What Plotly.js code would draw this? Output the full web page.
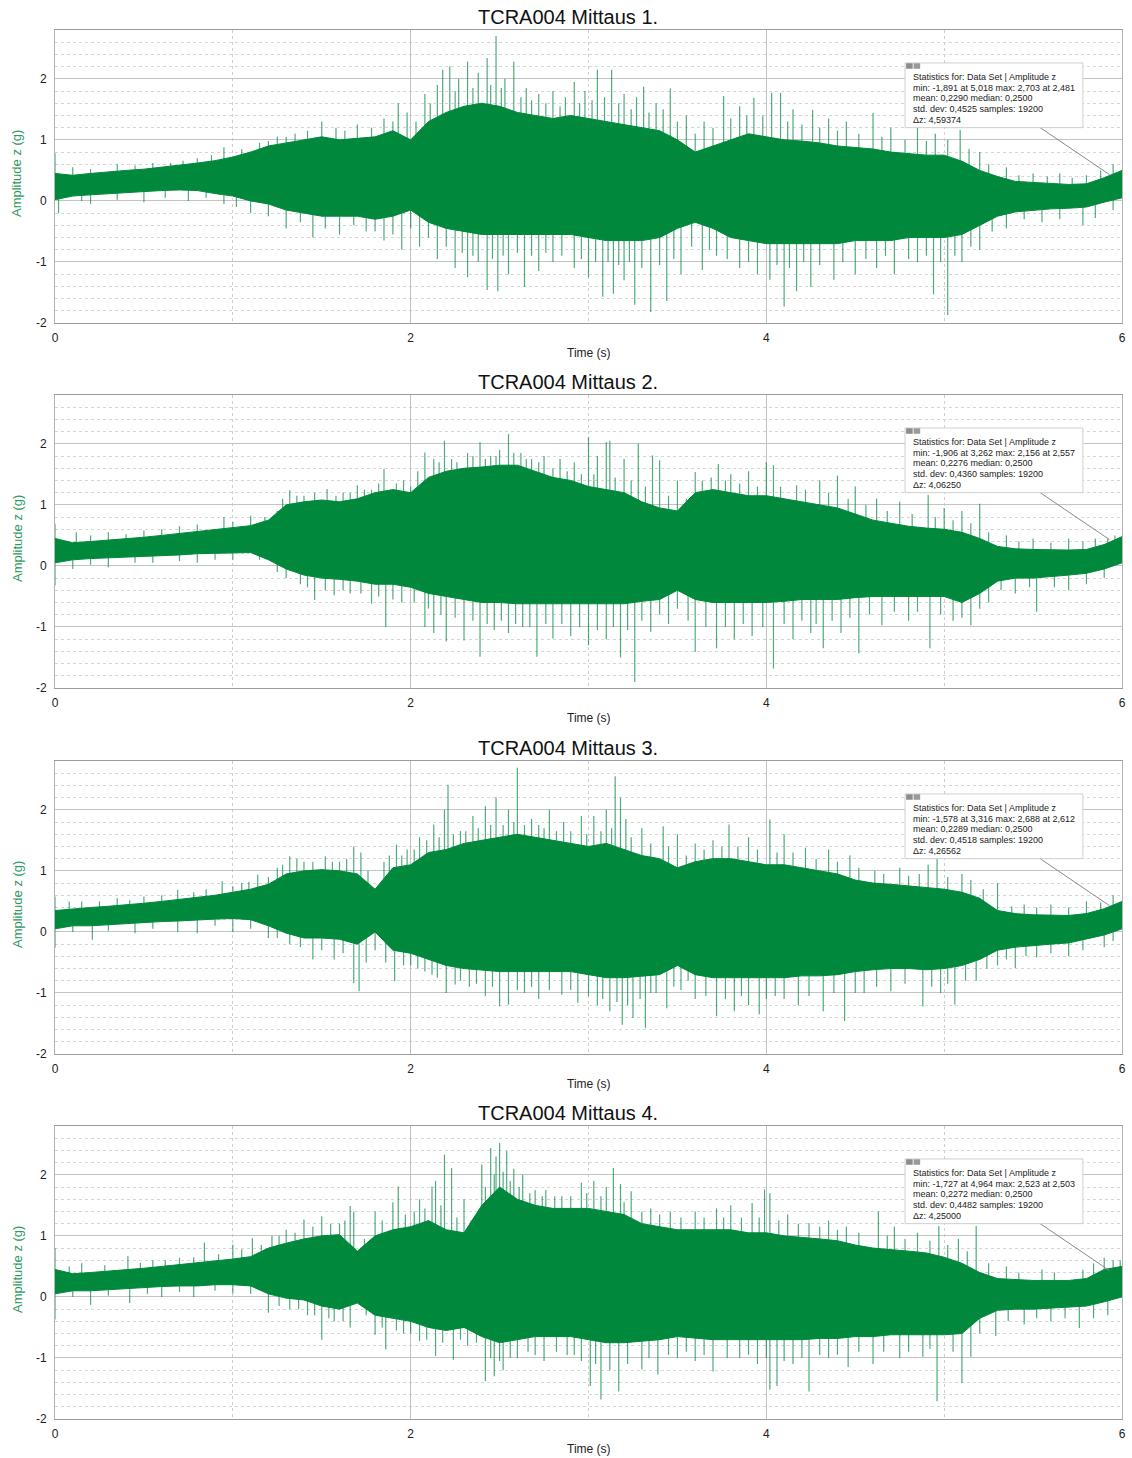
<!DOCTYPE html>
<html><head><meta charset="utf-8">
<script src="https://cdn.plot.ly/plotly-3.0.1.min.js"></script>
<style>html,body{margin:0;padding:0;background:#fff}#chart{width:1132px;height:1458px}</style>
</head><body><div id="chart"></div><script>
const panelTitles = ["TCRA004 Mittaus 1.", "TCRA004 Mittaus 2.", "TCRA004 Mittaus 3.", "TCRA004 Mittaus 4."];
const xTitle = "Time (s)";
const yTitle = "Amplitude z (g)";
const xTickVals = [0, 2, 4, 6];
const xTickText = ["0", "2", "4", "6"];
const yTickVals = [-2, -1, 0, 1, 2];
const yTickText = ["-2", "-1", "0", "1", "2"];
const medianZ = [0.25, 0.25, 0.25, 0.25];

const timeGrid = [0,0.1,0.2,0.3,0.4,0.5,0.6,0.7,0.8,0.9,1,1.1,1.2,1.3,1.4,1.5,1.6,1.7,1.8,1.9,2,2.1,2.2,2.3,2.4,2.5,2.6,2.7,2.8,2.9,3,3.1,3.2,3.3,3.4,3.5,3.6,3.7,3.8,3.9,4,4.1,4.2,4.3,4.4,4.5,4.6,4.7,4.8,4.9,5,5.1,5.2,5.3,5.4,5.5,5.6,5.7,5.8,5.9,6];

// Dense body envelope (upper / lower edge) per measurement
const upper1 = [0.45,0.42,0.45,0.48,0.5,0.52,0.55,0.58,0.62,0.66,0.72,0.8,0.9,0.95,1.0,1.05,1.0,1.02,1.05,1.15,1.0,1.3,1.45,1.55,1.6,1.55,1.45,1.4,1.35,1.4,1.35,1.3,1.25,1.2,1.15,1.0,0.8,0.9,1.0,1.1,1.05,1.0,0.98,0.95,0.9,0.88,0.85,0.8,0.78,0.75,0.75,0.65,0.5,0.4,0.32,0.3,0.28,0.27,0.28,0.38,0.5];
const lower1 = [0.02,0.08,0.1,0.12,0.13,0.15,0.17,0.18,0.17,0.12,0.08,0.0,-0.05,-0.15,-0.2,-0.25,-0.25,-0.25,-0.3,-0.25,-0.15,-0.35,-0.45,-0.5,-0.55,-0.55,-0.55,-0.55,-0.55,-0.55,-0.6,-0.65,-0.65,-0.65,-0.6,-0.45,-0.35,-0.45,-0.6,-0.65,-0.7,-0.7,-0.7,-0.7,-0.7,-0.65,-0.65,-0.65,-0.6,-0.6,-0.6,-0.55,-0.4,-0.25,-0.18,-0.15,-0.13,-0.12,-0.1,-0.02,0.05];
const upper2 = [0.45,0.38,0.4,0.42,0.44,0.47,0.5,0.53,0.56,0.6,0.63,0.66,0.75,1.0,1.05,1.08,1.05,1.1,1.2,1.25,1.2,1.45,1.55,1.6,1.62,1.65,1.65,1.55,1.45,1.4,1.3,1.25,1.2,1.05,0.95,0.9,1.2,1.25,1.2,1.15,1.15,1.1,1.05,1.0,0.95,0.85,0.75,0.7,0.65,0.62,0.6,0.55,0.45,0.32,0.28,0.27,0.26,0.26,0.27,0.35,0.48];
const lower2 = [0.05,0.1,0.12,0.13,0.14,0.15,0.17,0.18,0.2,0.21,0.22,0.22,0.1,-0.05,-0.15,-0.2,-0.22,-0.25,-0.3,-0.3,-0.35,-0.45,-0.5,-0.55,-0.6,-0.6,-0.62,-0.62,-0.62,-0.62,-0.62,-0.62,-0.62,-0.58,-0.55,-0.4,-0.55,-0.6,-0.6,-0.6,-0.6,-0.58,-0.55,-0.55,-0.55,-0.52,-0.5,-0.5,-0.5,-0.5,-0.5,-0.6,-0.45,-0.25,-0.2,-0.2,-0.18,-0.15,-0.12,-0.05,0.05];
const upper3 = [0.35,0.38,0.4,0.42,0.44,0.47,0.5,0.53,0.56,0.6,0.65,0.7,0.78,0.95,1.0,1.02,1.0,0.95,0.7,1.05,1.1,1.3,1.35,1.45,1.5,1.55,1.6,1.55,1.5,1.45,1.4,1.45,1.35,1.25,1.2,1.05,1.15,1.2,1.2,1.15,1.1,1.1,1.05,1.0,0.95,0.85,0.8,0.78,0.75,0.72,0.7,0.65,0.55,0.35,0.3,0.28,0.28,0.27,0.3,0.38,0.5];
const lower3 = [0.05,0.1,0.1,0.12,0.13,0.15,0.17,0.18,0.2,0.21,0.22,0.2,0.1,-0.02,-0.1,-0.1,-0.12,-0.2,0.0,-0.3,-0.35,-0.45,-0.55,-0.6,-0.62,-0.65,-0.65,-0.65,-0.65,-0.65,-0.7,-0.75,-0.75,-0.72,-0.7,-0.55,-0.7,-0.75,-0.75,-0.75,-0.75,-0.75,-0.72,-0.72,-0.7,-0.65,-0.62,-0.6,-0.6,-0.62,-0.6,-0.55,-0.45,-0.3,-0.25,-0.22,-0.2,-0.18,-0.12,-0.05,0.05];
const upper4 = [0.45,0.38,0.4,0.42,0.44,0.47,0.5,0.53,0.56,0.58,0.62,0.66,0.8,0.88,0.95,1.0,1.02,0.75,1.0,1.1,1.15,1.25,1.1,1.05,1.5,1.8,1.6,1.5,1.45,1.45,1.45,1.4,1.35,1.2,1.15,1.1,1.1,1.1,1.1,1.05,1.05,1.0,0.98,0.95,0.92,0.85,0.8,0.78,0.75,0.72,0.65,0.55,0.4,0.3,0.28,0.27,0.27,0.27,0.3,0.45,0.5];
const lower4 = [0.05,0.1,0.1,0.12,0.13,0.15,0.17,0.18,0.18,0.2,0.2,0.18,0.05,-0.02,-0.05,-0.15,-0.2,-0.1,-0.3,-0.35,-0.4,-0.5,-0.55,-0.5,-0.65,-0.75,-0.7,-0.65,-0.65,-0.65,-0.7,-0.75,-0.75,-0.72,-0.7,-0.65,-0.68,-0.7,-0.7,-0.7,-0.7,-0.7,-0.7,-0.68,-0.68,-0.65,-0.65,-0.62,-0.62,-0.62,-0.62,-0.6,-0.35,-0.22,-0.2,-0.2,-0.18,-0.17,-0.15,-0.08,0.0];

// Tallest individual peaks (time, value)
const peakUpT1 = [0.0,0.1,0.35,0.55,0.8,0.95,1.05,1.25,1.35,1.5,1.58,1.7,1.85,1.93,1.98,2.08,2.15,2.18,2.22,2.27,2.32,2.38,2.43,2.48,2.53,2.58,2.65,2.72,2.8,2.87,2.92,2.98,3.05,3.13,3.2,3.27,3.31,3.38,3.46,3.55,3.65,3.76,3.85,3.93,4.03,4.08,4.15,4.26,4.35,4.45,4.6,4.7,4.85,4.95,5.09,5.2,5.35,5.5,5.65,5.8,5.95];
const peakUpV1 = [0.78,0.55,0.6,0.62,0.7,0.88,0.85,1.05,1.1,1.3,1.2,1.25,1.35,1.6,1.45,1.75,1.9,2.15,2.2,2.0,2.28,2.1,2.34,2.7,2.0,2.28,1.85,1.75,1.8,1.7,1.95,1.8,2.15,2.15,1.75,1.7,1.87,1.6,1.84,1.4,1.3,1.72,1.55,1.69,1.77,1.77,1.5,1.49,1.35,1.3,1.44,1.2,1.21,1.1,1.16,0.8,0.55,0.45,0.45,0.42,0.6];
const peakDnT1 = [0.02,0.2,0.5,0.75,0.95,1.1,1.3,1.45,1.6,1.75,1.85,1.95,2.05,2.15,2.25,2.32,2.38,2.43,2.49,2.55,2.64,2.72,2.8,2.92,3.0,3.08,3.14,3.2,3.26,3.35,3.44,3.52,3.64,3.72,3.85,3.95,4.02,4.1,4.17,4.25,4.38,4.5,4.62,4.72,4.85,4.94,5.02,5.1,5.2,5.35,5.55,5.78,5.95];
const peakDnV1 = [-0.2,-0.05,-0.02,0.0,-0.05,-0.2,-0.45,-0.6,-0.55,-0.5,-0.65,-0.8,-0.75,-0.95,-1.1,-1.25,-1.0,-1.46,-1.48,-1.2,-1.41,-1.15,-1.0,-1.1,-1.25,-1.57,-1.52,-1.3,-1.7,-1.82,-1.64,-1.2,-1.13,-0.9,-1.1,-1.2,-1.29,-1.73,-1.48,-1.41,-1.29,-1.2,-1.1,-1.2,-1.0,-1.53,-1.87,-1.0,-0.8,-0.45,-0.35,-0.4,-0.15];
// Smaller peaks along the edge of the dense body
const ridgeUpT1 = [0.2,0.45,0.65,0.72,0.88,1.15,1.2,1.3,1.42,1.63,1.78,1.9,2.03,2.11,2.25,2.35,2.45,2.51,2.62,2.68,2.76,2.84,2.95,3.02,3.09,3.17,3.24,3.34,3.42,3.5,3.6,3.7,3.8,3.89,3.98,4.12,4.2,4.3,4.4,4.52,4.65,4.78,4.9,5.02,5.14,5.25,5.42,5.58,5.72,5.88];
const ridgeUpV1 = [0.52,0.58,0.62,0.66,0.75,0.95,0.98,1.05,1.15,1.15,1.2,1.3,1.3,1.6,1.8,1.85,1.9,1.85,1.7,1.65,1.6,1.55,1.6,1.65,1.7,1.6,1.5,1.45,1.5,1.3,1.1,1.2,1.35,1.4,1.4,1.3,1.25,1.2,1.15,1.1,1.05,1.0,0.98,1.0,0.85,0.6,0.42,0.4,0.38,0.5];
const ridgeDnT1 = [0.15,0.35,0.62,0.85,1.02,1.2,1.38,1.52,1.68,1.8,1.9,2.0,2.1,2.2,2.29,2.35,2.46,2.52,2.6,2.68,2.76,2.85,2.96,3.04,3.11,3.17,3.23,3.3,3.4,3.48,3.58,3.68,3.78,3.9,4.06,4.13,4.21,4.3,4.43,4.56,4.67,4.8,4.9,4.98,5.06,5.15,5.27,5.45,5.65,5.85];
const ridgeDnV1 = [0.0,0.02,0.05,0.05,-0.1,-0.25,-0.35,-0.45,-0.4,-0.5,-0.55,-0.45,-0.6,-0.75,-0.85,-0.9,-0.95,-0.9,-0.85,-0.9,-0.85,-0.9,-0.95,-1.0,-1.0,-1.05,-1.0,-1.1,-1.05,-0.95,-0.75,-0.8,-0.95,-1.0,-1.05,-1.1,-1.0,-1.05,-1.0,-0.95,-0.9,-0.95,-0.9,-1.0,-0.9,-0.75,-0.5,-0.3,-0.3,-0.28];

const peakUpT2 = [0.0,0.12,0.3,0.5,0.7,0.95,1.1,1.25,1.32,1.4,1.53,1.62,1.7,1.78,1.85,1.92,2.0,2.08,2.13,2.19,2.26,2.32,2.39,2.45,2.5,2.55,2.62,2.68,2.75,2.84,2.92,3.0,3.05,3.1,3.12,3.2,3.28,3.36,3.4,3.5,3.6,3.73,3.8,3.9,4.0,4.04,4.17,4.3,4.4,4.5,4.62,4.75,4.91,5.0,5.1,5.2,5.35,5.5,5.7,5.85,5.96];
const peakUpV2 = [0.69,0.55,0.55,0.58,0.65,0.8,0.82,0.9,1.24,1.15,1.26,1.2,1.32,1.25,1.59,1.35,1.3,1.86,1.75,2.05,1.7,1.85,2.03,1.8,1.9,2.16,1.85,1.75,1.8,1.75,1.7,2.11,1.8,2.03,2.05,1.75,2.0,1.81,1.73,1.4,1.54,1.67,1.5,1.55,1.7,1.65,1.32,1.4,1.48,1.3,1.1,1.05,1.16,0.95,0.9,1.02,0.5,0.45,0.45,0.45,0.5];
const peakDnT2 = [0.0,0.1,0.3,0.55,0.8,1.0,1.25,1.38,1.46,1.57,1.66,1.78,1.86,1.95,2.08,2.13,2.2,2.3,2.39,2.47,2.55,2.63,2.71,2.8,2.9,3.0,3.1,3.18,3.26,3.35,3.45,3.6,3.72,3.82,3.92,4.04,4.15,4.25,4.32,4.42,4.52,4.65,4.8,4.92,5.05,5.15,5.25,5.4,5.52,5.7,5.9];
const peakDnV2 = [-0.32,-0.05,-0.02,0.05,0.05,0.1,-0.1,-0.3,-0.56,-0.48,-0.45,-0.62,-1.0,-0.6,-1.0,-1.1,-1.24,-1.22,-1.49,-1.05,-1.1,-1.0,-1.49,-1.19,-1.15,-1.3,-1.2,-1.5,-1.9,-1.08,-0.95,-1.41,-1.35,-1.2,-1.15,-1.68,-1.2,-1.1,-1.35,-1.1,-1.43,-0.97,-0.9,-1.35,-0.9,-0.97,-0.6,-0.45,-0.75,-0.4,-0.2];
const ridgeUpT2 = [0.2,0.4,0.6,0.8,1.0,1.18,1.28,1.36,1.46,1.58,1.66,1.74,1.82,1.96,2.04,2.16,2.23,2.35,2.42,2.48,2.58,2.65,2.72,2.8,2.88,2.96,3.03,3.15,3.24,3.32,3.45,3.55,3.64,3.69,3.77,3.85,3.95,4.08,4.22,4.35,4.46,4.56,4.68,4.82,4.95,5.05,5.15,5.25,5.42,5.6,5.78,5.92];
const ridgeUpV2 = [0.5,0.52,0.6,0.68,0.72,0.8,1.1,1.15,1.2,1.15,1.2,1.25,1.35,1.4,1.55,1.7,1.75,1.8,1.75,1.8,1.85,1.75,1.7,1.6,1.55,1.5,1.5,1.45,1.4,1.3,1.15,1.1,1.4,1.45,1.4,1.35,1.3,1.3,1.25,1.2,1.1,1.0,0.9,0.85,0.8,0.75,0.7,0.55,0.4,0.38,0.4,0.45];
const ridgeDnT2 = [0.2,0.45,0.7,0.9,1.15,1.3,1.42,1.52,1.62,1.72,1.82,1.9,2.02,2.1,2.17,2.25,2.35,2.43,2.51,2.59,2.67,2.76,2.85,2.95,3.05,3.14,3.22,3.3,3.4,3.5,3.56,3.66,3.77,3.87,3.98,4.1,4.2,4.28,4.37,4.47,4.58,4.72,4.85,4.98,5.1,5.2,5.32,5.48,5.62,5.8];
const ridgeDnV2 = [0.02,0.05,0.08,0.1,0.1,-0.2,-0.35,-0.4,-0.4,-0.45,-0.5,-0.55,-0.6,-0.7,-0.8,-0.85,-0.9,-0.95,-0.9,-0.95,-1.0,-0.95,-0.95,-1.0,-1.05,-1.0,-1.05,-0.9,-0.8,-0.7,-0.9,-1.0,-1.0,-0.95,-1.0,-0.95,-0.9,-0.95,-0.9,-0.85,-0.8,-0.75,-0.75,-0.8,-0.85,-0.7,-0.4,-0.35,-0.35,-0.3];

const peakUpT3 = [0.0,0.15,0.35,0.5,0.69,0.85,0.94,1.05,1.14,1.25,1.32,1.36,1.45,1.52,1.6,1.68,1.72,1.85,1.92,1.98,2.05,2.13,2.19,2.21,2.28,2.35,2.42,2.48,2.55,2.6,2.68,2.72,2.78,2.86,2.96,3.03,3.1,3.15,3.18,3.21,3.3,3.42,3.5,3.6,3.7,3.79,3.9,4.02,4.1,4.22,4.35,4.47,4.61,4.75,4.91,4.96,5.1,5.3,5.45,5.6,5.8,5.95];
const peakUpV3 = [0.58,0.5,0.55,0.58,0.69,0.7,0.83,0.8,0.94,1.05,1.24,1.2,1.15,1.24,1.15,1.4,1.3,1.15,1.43,1.35,1.55,1.76,2.0,2.41,1.65,1.9,2.06,2.2,2.0,2.69,1.85,1.75,2.0,1.8,1.9,1.9,2.0,2.55,2.2,1.85,1.7,1.73,1.6,1.45,1.5,1.76,1.55,1.84,1.6,1.38,1.35,1.25,1.0,1.05,1.1,1.21,0.95,0.8,0.45,0.45,0.5,0.6];
const peakDnT3 = [0.0,0.21,0.45,0.69,0.8,1.0,1.2,1.38,1.45,1.57,1.68,1.71,1.8,1.91,2.0,2.08,2.15,2.2,2.25,2.33,2.42,2.5,2.55,2.64,2.72,2.85,2.94,3.05,3.12,3.19,3.25,3.32,3.38,3.44,3.52,3.6,3.72,3.82,3.9,3.96,4.05,4.18,4.32,4.44,4.55,4.7,4.88,4.98,5.06,5.18,5.3,5.4,5.52,5.7,5.9];
const peakDnV3 = [-0.26,-0.13,-0.02,0.0,-0.02,0.0,-0.1,-0.25,-0.45,-0.45,-0.84,-0.97,-0.3,-0.81,-0.55,-0.65,-0.75,-1.0,-0.86,-0.9,-1.05,-1.22,-1.19,-1.0,-1.1,-1.03,-1.16,-1.2,-1.3,-1.52,-1.41,-1.57,-1.0,-1.25,-0.95,-1.1,-1.38,-1.3,-1.2,-1.35,-1.05,-1.2,-1.3,-1.46,-1.0,-0.97,-1.22,-1.0,-1.19,-0.8,-0.55,-0.59,-0.42,-0.4,-0.25];
const ridgeUpT3 = [0.08,0.25,0.42,0.6,0.78,1.0,1.09,1.2,1.28,1.4,1.56,1.64,1.76,1.88,1.95,2.02,2.09,2.16,2.24,2.31,2.38,2.45,2.52,2.58,2.64,2.75,2.82,2.9,2.99,3.07,3.13,3.24,3.35,3.45,3.55,3.65,3.75,3.84,3.95,4.06,4.15,4.28,4.4,4.52,4.66,4.8,4.86,5.02,5.15,5.22,5.38,5.52,5.7,5.88];
const ridgeUpV3 = [0.5,0.5,0.52,0.6,0.65,0.75,0.82,0.9,1.1,1.15,1.15,1.2,1.0,1.25,1.25,1.35,1.5,1.55,1.6,1.65,1.7,1.75,1.75,1.8,1.75,1.7,1.65,1.65,1.6,1.65,1.7,1.55,1.45,1.4,1.25,1.35,1.4,1.4,1.35,1.3,1.3,1.2,1.15,1.05,0.95,0.92,0.95,0.9,0.85,0.7,0.42,0.4,0.4,0.48];
const ridgeDnT3 = [0.1,0.3,0.55,0.9,1.1,1.25,1.32,1.5,1.62,1.75,1.86,1.96,2.04,2.12,2.28,2.37,2.46,2.6,2.68,2.78,2.9,3.0,3.08,3.16,3.22,3.29,3.35,3.48,3.56,3.66,3.77,3.86,4.0,4.1,4.24,4.38,4.5,4.62,4.78,4.93,5.02,5.12,5.24,5.35,5.46,5.6,5.78,5.95];
const ridgeDnV3 = [0.0,0.02,0.05,0.1,0.05,-0.1,-0.2,-0.3,-0.35,-0.5,-0.5,-0.55,-0.6,-0.7,-0.8,-0.85,-0.9,-0.95,-0.9,-0.95,-0.95,-1.05,-1.1,-1.15,-1.2,-1.1,-1.0,-0.9,-0.8,-1.05,-1.1,-1.05,-1.1,-1.1,-1.05,-1.0,-1.0,-0.9,-0.85,-0.9,-0.85,-0.8,-0.6,-0.45,-0.4,-0.35,-0.3,-0.15];

const peakUpT4 = [0.0,0.15,0.41,0.55,0.7,0.84,1.0,1.11,1.22,1.3,1.4,1.5,1.6,1.66,1.68,1.8,1.9,1.93,2.05,2.12,2.14,2.19,2.23,2.3,2.4,2.45,2.48,2.5,2.54,2.58,2.63,2.7,2.76,2.85,2.96,3.03,3.1,3.14,3.18,3.24,3.35,3.46,3.6,3.72,3.8,3.92,3.99,4.02,4.12,4.24,4.35,4.45,4.63,4.72,4.85,4.97,5.08,5.18,5.35,5.55,5.78,5.9,5.99];
const peakUpV4 = [0.8,0.55,0.67,0.6,0.64,0.89,0.86,0.96,1.0,1.1,1.27,1.32,1.2,1.49,1.4,1.4,1.55,1.81,1.6,1.81,1.9,2.33,2.11,1.6,2.17,2.44,2.3,2.52,2.39,2.1,2.0,1.75,1.75,1.65,1.87,1.9,1.8,2.11,1.85,1.73,1.45,1.4,1.4,1.45,1.5,1.54,1.76,1.7,1.35,1.21,1.25,1.15,1.4,1.15,1.05,1.16,0.95,1.16,0.5,0.45,0.45,0.64,0.6];
const peakDnT4 = [0.0,0.2,0.42,0.6,0.78,1.0,1.2,1.32,1.42,1.5,1.57,1.66,1.8,1.86,1.96,2.05,2.14,2.24,2.32,2.42,2.47,2.52,2.6,2.75,2.88,2.96,3.01,3.07,3.17,3.3,3.39,3.5,3.6,3.7,3.85,3.95,4.02,4.06,4.15,4.24,4.35,4.46,4.6,4.75,4.88,4.96,5.1,5.15,5.29,5.45,5.6,5.76,5.92];
const peakDnV4 = [-0.37,-0.13,-0.1,0.0,0.0,0.05,-0.26,-0.2,-0.3,-0.7,-0.4,-0.5,-0.62,-0.86,-0.6,-0.72,-0.97,-1.03,-0.8,-1.38,-1.3,-1.2,-1.0,-1.05,-0.95,-1.05,-1.46,-1.68,-1.55,-1.19,-1.27,-1.0,-1.05,-1.22,-1.0,-1.1,-1.52,-1.46,-1.1,-1.55,-1.0,-1.15,-1.1,-1.0,-0.98,-1.71,-1.41,-0.98,-0.64,-0.45,-0.4,-0.51,-0.3];
const ridgeUpT4 = [0.08,0.28,0.48,0.62,0.78,0.92,1.05,1.16,1.26,1.35,1.45,1.55,1.63,1.74,1.84,1.97,2.02,2.08,2.17,2.26,2.34,2.42,2.47,2.52,2.56,2.61,2.67,2.74,2.81,2.9,2.99,3.07,3.2,3.3,3.4,3.52,3.65,3.76,3.86,3.96,4.07,4.18,4.3,4.4,4.52,4.68,4.78,4.92,5.02,5.13,5.25,5.42,5.62,5.84,5.95];
const ridgeUpV4 = [0.5,0.52,0.56,0.6,0.65,0.7,0.78,0.85,1.0,1.05,1.15,1.2,1.25,0.95,1.25,1.35,1.4,1.45,1.5,1.3,1.25,1.8,2.0,2.05,1.9,1.8,1.7,1.65,1.65,1.65,1.7,1.65,1.55,1.4,1.35,1.3,1.3,1.3,1.3,1.3,1.25,1.2,1.15,1.1,1.05,1.0,0.95,0.92,0.85,0.75,0.55,0.4,0.4,0.55,0.6];
const ridgeDnT4 = [0.1,0.3,0.52,0.7,0.9,1.1,1.26,1.37,1.46,1.54,1.62,1.75,1.84,1.92,2.0,2.09,2.18,2.28,2.37,2.45,2.5,2.56,2.66,2.7,2.82,2.92,3.04,3.12,3.22,3.34,3.45,3.55,3.65,3.78,3.9,4.0,4.1,4.2,4.3,4.4,4.52,4.66,4.8,4.92,5.05,5.2,5.36,5.52,5.68,5.84];
const ridgeDnV4 = [0.0,0.02,0.05,0.08,0.1,0.05,-0.15,-0.2,-0.3,-0.35,-0.4,-0.3,-0.5,-0.55,-0.6,-0.7,-0.75,-0.7,-0.75,-1.0,-1.05,-1.0,-0.9,-0.95,-0.9,-0.95,-1.1,-1.2,-1.1,-1.0,-0.95,-0.9,-0.95,-1.0,-0.95,-1.0,-1.05,-1.0,-0.95,-0.95,-0.9,-0.9,-0.9,-0.85,-0.9,-0.6,-0.4,-0.35,-0.35,-0.35];

// Statistics box texts
const statMinMax = ["min: -1,891 at 5,018 max: 2,703 at 2,481", "min: -1,906 at 3,262 max: 2,156 at 2,557", "min: -1,578 at 3,316 max: 2,688 at 2,612", "min: -1,727 at 4,964 max: 2,523 at 2,503"];
const statMean = ["mean: 0,2290 median: 0,2500", "mean: 0,2276 median: 0,2500", "mean: 0,2289 median: 0,2500", "mean: 0,2272 median: 0,2500"];
const statStd = ["std. dev: 0,4525 samples: 19200", "std. dev: 0,4360 samples: 19200", "std. dev: 0,4518 samples: 19200", "std. dev: 0,4482 samples: 19200"];
const statDelta = ["Δz: 4,59374", "Δz: 4,06250", "Δz: 4,26562", "Δz: 4,25000"];

const uppers = [upper1, upper2, upper3, upper4];
const lowers = [lower1, lower2, lower3, lower4];
const peakSets = [
  [[peakUpT1, peakUpV1], [peakDnT1, peakDnV1], [ridgeUpT1, ridgeUpV1], [ridgeDnT1, ridgeDnV1]],
  [[peakUpT2, peakUpV2], [peakDnT2, peakDnV2], [ridgeUpT2, ridgeUpV2], [ridgeDnT2, ridgeDnV2]],
  [[peakUpT3, peakUpV3], [peakDnT3, peakDnV3], [ridgeUpT3, ridgeUpV3], [ridgeDnT3, ridgeDnV3]],
  [[peakUpT4, peakUpV4], [peakDnT4, peakDnV4], [ridgeUpT4, ridgeUpV4], [ridgeDnT4, ridgeDnV4]]
];

const BODY = '#00883d';
const SPIKE = 'rgba(10,140,70,0.72)';
const FONT = 'Liberation Sans, Arial, Helvetica, sans-serif';

// layout geometry (pixels -> paper)
const W = 1132, H = 1458, ML = 55, MR = 10, MT = 30, MB = 39;
const plotH = H - MT - MB, plotW = W - ML - MR;
const panelTop = [30, 395, 761, 1126];
const panelH = 293;
const py2paper = py => (H - MB - py) / plotH;
const px2paper = px => (px - ML) / plotW;

const traces = [];
const layout = {
  width: W, height: H,
  margin: {l: ML, r: MR, t: MT, b: MB},
  paper_bgcolor: '#fff', plot_bgcolor: '#fff',
  showlegend: false,
  font: {family: FONT, size: 12, color: '#222'},
  annotations: [], shapes: [],
  hovermode: false
};

for (let i = 0; i < 4; i++) {
  const sx = i === 0 ? '' : String(i + 1);
  const xa = 'x' + sx, ya = 'y' + sx;
  function spikeTrace(ts, vs) {
    const xs = [], ys = [];
    for (let j = 0; j < ts.length; j++) { xs.push(ts[j], ts[j], null); ys.push(medianZ[i], vs[j], null); }
    return {type: 'scatter', mode: 'lines', x: xs, y: ys, xaxis: xa, yaxis: ya,
      line: {color: SPIKE, width: 1.2}, hoverinfo: 'skip'};
  }
  peakSets[i].forEach(p => traces.push(spikeTrace(p[0], p[1])));
  traces.push({type: 'scatter', mode: 'lines', x: timeGrid, y: lowers[i], xaxis: xa, yaxis: ya,
    line: {color: BODY, width: 1}, hoverinfo: 'skip'});
  traces.push({type: 'scatter', mode: 'lines', x: timeGrid, y: uppers[i], xaxis: xa, yaxis: ya,
    fill: 'tonexty', fillcolor: BODY, line: {color: BODY, width: 1}, hoverinfo: 'skip'});

  const top = panelTop[i], bot = top + panelH;
  layout['xaxis' + sx] = {
    domain: [0, 1], anchor: ya, range: [0, 6], tickmode: 'array', tickvals: xTickVals, ticktext: xTickText,
    showgrid: true, gridcolor: '#c2c2c2', gridwidth: 1,
    minor: {tickmode: 'linear', dtick: 1, tick0: 0, showgrid: true, gridcolor: '#cfcfcf', griddash: 'dot', ticks: ''},
    showline: true, linecolor: '#9c9c9c', linewidth: 1, mirror: true,
    zeroline: false, ticks: '', ticklabelstandoff: 4, tickfont: {size: 12, color: '#222'}, fixedrange: true
  };
  layout['yaxis' + sx] = {
    domain: [py2paper(bot), py2paper(top)], anchor: xa, range: [-2, 2.8], tickmode: 'array', tickvals: yTickVals, ticktext: yTickText,
    showgrid: true, gridcolor: '#c4c4c4', gridwidth: 1,
    minor: {tickmode: 'linear', dtick: 0.2, tick0: 0, showgrid: true, gridcolor: '#d6d6d6', griddash: 'dot', ticks: ''},
    showline: true, linecolor: '#b4b4b4', linewidth: 1, mirror: true,
    zeroline: false, ticks: '', ticklabelstandoff: 5, tickfont: {size: 12, color: '#222'}, fixedrange: true
  };

  layout.annotations.push({xref: 'paper', yref: 'paper', x: px2paper(568), y: py2paper(top - 13),
    xanchor: 'center', yanchor: 'middle', text: panelTitles[i], showarrow: false,
    font: {size: 20, color: '#111', family: FONT}});
  layout.annotations.push({xref: 'paper', yref: 'paper', x: px2paper(589), y: py2paper(top + 323),
    xanchor: 'center', yanchor: 'middle', text: xTitle, showarrow: false,
    font: {size: 12, color: '#222', family: FONT}});
  layout.annotations.push({xref: 'paper', yref: 'paper', x: px2paper(17), y: py2paper(top + 143),
    xanchor: 'center', yanchor: 'middle', text: yTitle, textangle: -90, showarrow: false,
    font: {size: 13, color: '#2f9a5f', family: FONT}});

  layout.shapes.push({type: 'line', xref: xa, yref: ya, x0: 5.54, y0: 1.2, x1: 5.93, y1: 0.43,
    line: {color: '#8a8a8a', width: 1}, layer: 'above'});
  layout.shapes.push({type: 'rect', xref: xa, yref: ya, x0: 4.78, x1: 5.78, y0: 1.2, y1: 2.26,
    fillcolor: '#ffffff', line: {color: '#cfcfcf', width: 1}, layer: 'above'});
  layout.shapes.push({type: 'rect', xref: xa, yref: ya, x0: 4.786, x1: 4.823, y0: 2.165, y1: 2.255,
    fillcolor: '#8c8c8c', line: {width: 0}, layer: 'above'});
  layout.shapes.push({type: 'rect', xref: xa, yref: ya, x0: 4.828, x1: 4.865, y0: 2.165, y1: 2.255,
    fillcolor: '#9a9a9a', line: {width: 0}, layer: 'above'});
  const lines = ["Statistics for: Data Set | Amplitude z", statMinMax[i], statMean[i], statStd[i], statDelta[i]];
  const ly = [2.033, 1.852, 1.689, 1.508, 1.328];
  for (let k = 0; k < lines.length; k++) {
    layout.annotations.push({xref: xa, yref: ya, x: 4.814, y: ly[k], xanchor: 'left', yanchor: 'middle',
      text: lines[k], showarrow: false, font: {size: 9, color: '#222', family: FONT}});
  }
}

Plotly.newPlot('chart', traces, layout, {displayModeBar: false, staticPlot: true});
</script></body></html>
